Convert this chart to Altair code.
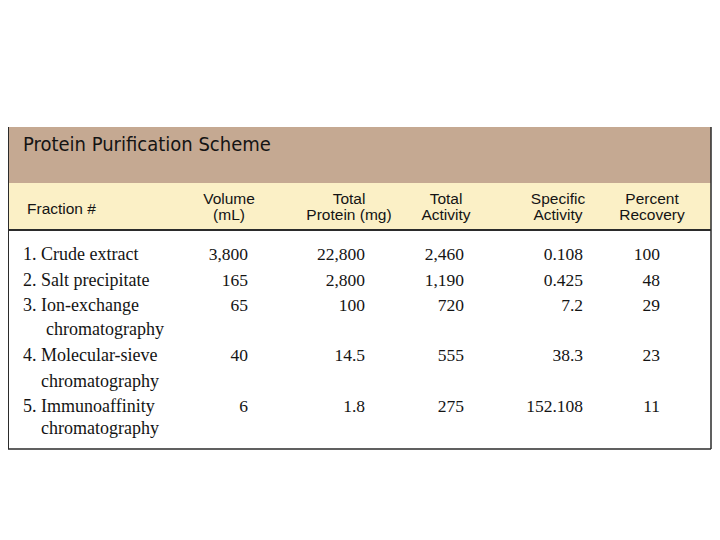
import altair as alt
import pandas as pd

# ---------------- data (table content) ----------------
title = "Protein Purification Scheme"
first_header = "Fraction #"
header_top = ["Volume", "Total", "Total", "Specific", "Percent"]
header_bottom = ["(mL)", "Protein (mg)", "Activity", "Activity", "Recovery"]

fraction_line1 = ["1. Crude extract", "2. Salt precipitate", "3. Ion-exchange",
                  "4. Molecular-sieve", "5. Immunoaffinity"]
fraction_line2 = ["", "", "chromatography", "chromatography", "chromatography"]

volume = ["3,800", "165", "65", "40", "6"]
total_protein = ["22,800", "2,800", "100", "14.5", "1.8"]
total_activity = ["2,460", "1,190", "720", "555", "275"]
specific_activity = ["0.108", "0.425", "7.2", "38.3", "152.108"]
percent_recovery = ["100", "48", "29", "23", "11"]

# ---------------- layout / style (page pixel coordinates) ----------------
TABLE_L, TABLE_R, TABLE_T, TABLE_B = 8, 711, 127, 449
TITLE_B = 183
HEAD_B = 230
COL_RIGHT = [248, 365, 464, 583, 660]
HEAD_CENTER = [229, 349, 446, 558, 652]
ROW_BASE = [260, 286, 311, 361, 412]
LINE2_BASE = [None, None, 335, 387, 434]
LINE2_X = [None, None, 46, 41, 41]
TAN = "#C5A992"
CREAM = "#FBF0C6"
BORDER = "#2b2b2b"
TEXT = "#141414"

W, H = 704, 500
xs = alt.Scale(domain=[8, 8 + W], nice=False, zero=False)
ys = alt.Scale(domain=[8, 8 + H], nice=False, zero=False, reverse=True)

bands = pd.DataFrame({
    "x": [TABLE_L, TABLE_L], "x2": [TABLE_R, TABLE_R],
    "y": [TABLE_T, TITLE_B], "y2": [TITLE_B, HEAD_B],
    "fill": [TAN, CREAM],
})
band_layer = alt.Chart(bands).mark_rect().encode(
    x=alt.X("x:Q", scale=xs, axis=None), x2="x2:Q",
    y=alt.Y("y:Q", scale=ys, axis=None), y2="y2:Q",
    color=alt.Color("fill:N", scale=None),
)

rules = pd.DataFrame({
    "x": [TABLE_L, TABLE_R, TABLE_L, TABLE_L],
    "x2": [TABLE_L, TABLE_R, TABLE_R, TABLE_R],
    "y": [TABLE_T, TABLE_T, TABLE_B, HEAD_B],
    "y2": [TABLE_B, TABLE_B, TABLE_B, HEAD_B],
    "w": [2.0, 1.5, 1.5, 2.0],
})
rule_layer = alt.Chart(rules).mark_rule(color=BORDER).encode(
    x=alt.X("x:Q", scale=xs, axis=None), x2="x2:Q",
    y=alt.Y("y:Q", scale=ys, axis=None), y2="y2:Q",
    strokeWidth=alt.StrokeWidth("w:Q", scale=None),
)

# title
title_df = pd.DataFrame({"x": [23], "y": [151], "t": [title]})
title_layer = alt.Chart(title_df).mark_text(
    align="left", baseline="alphabetic", font="DejaVu Sans Condensed, DejaVu Sans",
    fontSize=20, color=TEXT
).encode(x=alt.X("x:Q", scale=xs, axis=None), y=alt.Y("y:Q", scale=ys, axis=None), text="t:N")

# headers
head_rows = [{"x": 27, "y": 214, "t": first_header, "a": "left"}]
for i in range(5):
    head_rows.append({"x": HEAD_CENTER[i], "y": 204, "t": header_top[i], "a": "center"})
    head_rows.append({"x": HEAD_CENTER[i], "y": 220, "t": header_bottom[i], "a": "center"})
head_df = pd.DataFrame(head_rows)
head_left = alt.Chart(head_df[head_df.a == "left"]).mark_text(
    align="left", baseline="alphabetic", font="Liberation Sans", fontSize=15.5, color=TEXT
).encode(x=alt.X("x:Q", scale=xs, axis=None), y=alt.Y("y:Q", scale=ys, axis=None), text="t:N")
head_center = alt.Chart(head_df[head_df.a == "center"]).mark_text(
    align="center", baseline="alphabetic", font="Liberation Sans", fontSize=15.5, color=TEXT
).encode(x=alt.X("x:Q", scale=xs, axis=None), y=alt.Y("y:Q", scale=ys, axis=None), text="t:N")

# body: fraction names
name_rows = []
for i in range(5):
    name_rows.append({"x": 23, "y": ROW_BASE[i], "t": fraction_line1[i]})
    if fraction_line2[i]:
        name_rows.append({"x": LINE2_X[i], "y": LINE2_BASE[i], "t": fraction_line2[i]})
name_df = pd.DataFrame(name_rows)
name_layer = alt.Chart(name_df).mark_text(
    align="left", baseline="alphabetic", font="Liberation Serif", fontSize=18, color=TEXT
).encode(x=alt.X("x:Q", scale=xs, axis=None), y=alt.Y("y:Q", scale=ys, axis=None), text="t:N")

# body: numeric columns
columns = [volume, total_protein, total_activity, specific_activity, percent_recovery]
num_rows = []
for c, col in enumerate(columns):
    for i, v in enumerate(col):
        num_rows.append({"x": COL_RIGHT[c], "y": ROW_BASE[i], "t": v})
num_df = pd.DataFrame(num_rows)
num_layer = alt.Chart(num_df).mark_text(
    align="right", baseline="alphabetic", font="Liberation Serif", fontSize=17.5, color=TEXT
).encode(x=alt.X("x:Q", scale=xs, axis=None), y=alt.Y("y:Q", scale=ys, axis=None), text="t:N")

chart = alt.layer(
    band_layer, rule_layer, title_layer, head_left, head_center, name_layer, num_layer
).properties(
    width=W, height=H, autosize=alt.AutoSizeParams(type="none"), padding=0,
    background="white",
).configure_view(stroke=None)

chart.save("out.html", embed_options={"renderer": "svg", "actions": False})
